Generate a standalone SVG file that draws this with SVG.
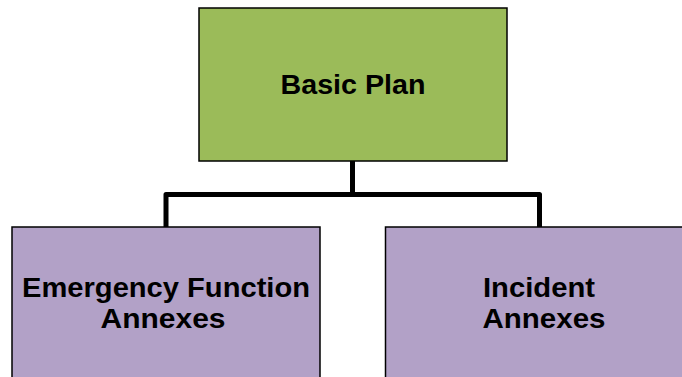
<svg xmlns="http://www.w3.org/2000/svg" width="682" height="377" viewBox="0 0 682 377">
  <style>
    .box { stroke: #000; stroke-width: 1.5; }
    .plan { fill: #9BBB59; }
    .annex { fill: #B2A1C7; }
    .label { font-family: "Liberation Sans", Arial, Helvetica, sans-serif; font-weight: bold; font-size: 27px; fill: #000; text-anchor: middle; }
    .link { fill: none; stroke: #000; stroke-width: 5; stroke-linejoin: round; }
  </style>
  <rect width="682" height="377" fill="#fff"/>

  <g id="connectors">
    <path class="link" d="M352.5 161 V194.5"/>
    <path class="link" d="M166 227 V194.5 H539.5 V227"/>
  </g>

  <g id="basic-plan">
    <rect class="box plan" x="199" y="8" width="308" height="153"/>
    <text class="label" x="353" y="94" textLength="145" lengthAdjust="spacingAndGlyphs">Basic Plan</text>
  </g>

  <g id="emergency-function-annexes">
    <rect class="box annex" x="12" y="227" width="308" height="153"/>
    <text class="label" x="166" y="297" textLength="288" lengthAdjust="spacingAndGlyphs">Emergency Function</text>
    <text class="label" x="163" y="328" textLength="125" lengthAdjust="spacingAndGlyphs">Annexes</text>
  </g>

  <g id="incident-annexes">
    <rect class="box annex" x="385.5" y="227" width="308" height="153"/>
    <text class="label" x="539" y="297" textLength="112" lengthAdjust="spacingAndGlyphs">Incident</text>
    <text class="label" x="544" y="328" textLength="123" lengthAdjust="spacingAndGlyphs">Annexes</text>
  </g>
</svg>
